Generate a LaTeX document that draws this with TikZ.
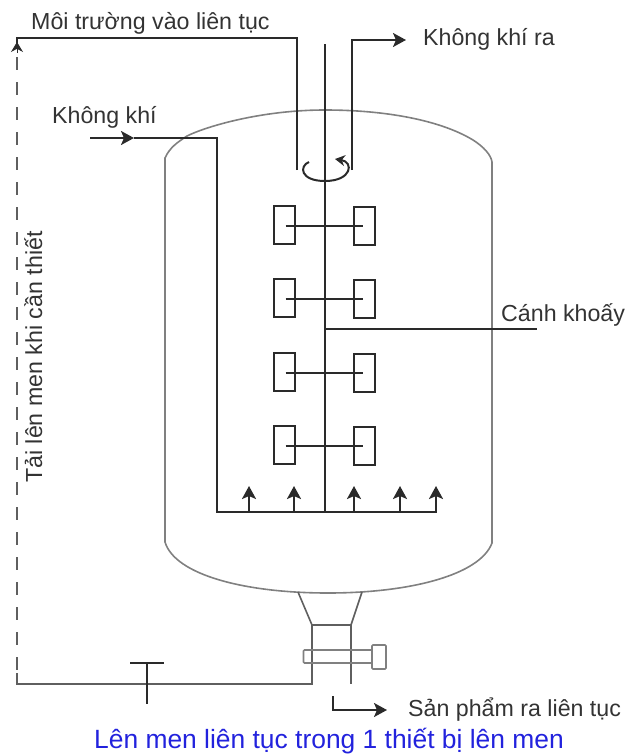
\documentclass[tikz,border=0pt]{standalone}
\usepackage{fontspec}
\setmainfont{Liberation Sans}
\usetikzlibrary{arrows.meta,positioning}
\definecolor{pipecol}{HTML}{2A2A2A}
\definecolor{shellcol}{HTML}{808080}
\definecolor{textcol}{HTML}{333333}
\definecolor{capcol}{HTML}{2222DD}
\tikzset{
  pipe/.style={line width=2pt,draw=pipecol},
  shell/.style={line width=1.6pt,draw=shellcol},
  neck/.style={line width=1.6pt,draw=pipecol!75},
  blade/.style={draw=pipecol,line width=1.8pt,minimum width=21pt,minimum height=38pt,inner sep=0pt},
  lbl/.style={font=\fontsize{23.2}{26}\selectfont,text=textcol,inner sep=0pt},
  bigtip/.style={-{Stealth[length=13pt,width=14pt,inset=3pt]}}
}
\begin{document}
\begin{tikzpicture}[>=Stealth,x=1pt,y=-1pt]
  \useasboundingbox (0,0) rectangle (626,755);

  % vessel
  \draw[shell] (165,158) .. controls (170,147) and (178,142) .. (187,136)
    .. controls (205,127) and (260,110) .. (325,110)
    .. controls (385,110) and (440,120) .. (473,140)
    .. controls (484,147) and (491,155) .. (492,162)
    -- (492,543) .. controls (480,575) and (410,593) .. (328,593)
    .. controls (245,593) and (175,575) .. (165,542) -- cycle;

  % pipes
  \coordinate (feedin) at (297,170);
  \coordinate (feedtop) at (297,38);
  \coordinate (recycletop) at (17,38);
  \coordinate (recycletip) at (17,57);
  \coordinate (recyclelow) at (17,673);
  \coordinate (outlow) at (352,170);
  \coordinate (outtop) at (352,40);
  \coordinate (outtip) at (406,40);
  \coordinate (airstart) at (90,138);
  \coordinate (airtip) at (134,138);
  \coordinate (aircorner) at (217,138);
  \coordinate (spargeleft) at (217,512);
  \coordinate (spargeright) at (437,512);
  \coordinate (shafttop) at (325,44);
  \coordinate (shaftlow) at (325,512);
  \coordinate (leverleft) at (325,329);
  \coordinate (leverright) at (537,329);

  \draw[pipe] (feedin) -- (feedtop) -- (recycletop) -- (17,44);
  \draw[-{Stealth[length=10pt,width=12pt]},line width=1pt,draw=pipecol] (17,53) -- (17,42);
  \draw[line width=1.6pt,draw=pipecol!75,dash pattern=on 13pt off 12pt] (recycletip) -- (recyclelow);
  \draw[pipe,bigtip] (outlow) -- (outtop) -- (outtip);
  \draw[pipe,bigtip] (airstart) -- (airtip);
  \draw[pipe] (airtip) -- (aircorner) -- (spargeleft) -- (spargeright);
  \draw[pipe] (shafttop) -- (shaftlow);
  \draw[pipe] (leverleft) -- (leverright);

  % spin mark on the shaft
  \draw[pipe,-{Stealth[length=10pt,width=11pt]}] (309,162)
    .. controls (299,166) and (300,181) .. (325,181)
    .. controls (352,181) and (354,162) .. (335,159);

  % impellers
  \foreach \row/\ypos in {1/226,2/299,3/373,4/446} {
    \node[blade] (bladeL\row) at (284.5,\ypos-1) {};
    \node[blade] (bladeR\row) at (364.5,\ypos) {};
    \draw[pipe] ([xshift=1pt]bladeL\row.center |- bladeR\row.center) -- ([xshift=-2pt]bladeR\row.center);
  }

  % air holes
  \foreach \xpos in {249,294,354,400,436} {
    \draw[pipe,line width=2.4pt,bigtip] (\xpos,512) -- (\xpos,486);
  }

  % bottom outlet
  \coordinate (funnelL) at (298,592);
  \coordinate (funnelR) at (362,592);
  \coordinate (neckL) at (312,625);
  \coordinate (neckR) at (351,625);
  \coordinate (drainL) at (312,684);
  \coordinate (drainR) at (351,684);
  \coordinate (returnL) at (17,684);
  \draw[neck] (funnelL) -- (neckL) -- (neckR) -- (funnelR);
  \draw[neck] (neckL) -- (drainL) -- (returnL) -- (recyclelow);
  \draw[neck] (neckR) -- (drainR);
  \node[draw=shellcol,line width=1.6pt,minimum width=69pt,minimum height=13pt,inner sep=0pt,rounded corners=1pt] (valvebody) at (338,656.5) {};
  \node[draw=shellcol,line width=1.6pt,fill=white,minimum width=14pt,minimum height=24pt,inner sep=0pt,rounded corners=1pt] (valvehead) at (379,657) {};

  % tap on the return line
  \coordinate (tapbarL) at (130,663);
  \coordinate (tapbarR) at (164,663);
  \coordinate (tapmid) at (147,663);
  \coordinate (taplow) at (147,704);
  \draw[pipe,line width=2.6pt] (tapbarL) -- (tapbarR);
  \draw[pipe] (tapmid) -- (taplow);

  % product arrow
  \coordinate (prodstart) at (333,696);
  \coordinate (prodcorner) at (333,710);
  \coordinate (prodtip) at (387,710);
  \draw[pipe,line width=2.2pt,bigtip] (prodstart) -- (prodcorner) -- (prodtip);

  % labels
  \node[lbl,anchor=base west] (feedlabel) at (31,29) {Môi trường vào liên tục};
  \node[lbl,anchor=base west] (outlabel) at (423,45) {Không khí ra};
  \node[lbl,anchor=base west] (airlabel) at (52,123) {Không khí};
  \node[lbl,anchor=base west] (bladelabel) at (501,321) {Cánh khoấy};
  \node[lbl,anchor=base west] (prodlabel) at (408,716) {Sản phẩm ra liên tục};
  \node[lbl,rotate=90,anchor=base] (recyclelabel) at (42,357) {Tải lên men khi cần thiết};
  \node[lbl,text=capcol,font=\fontsize{26.4}{30}\selectfont,anchor=base] (caption) at (329,748.5) {Lên men liên tục trong 1 thiết bị lên men};
\end{tikzpicture}
\end{document}
